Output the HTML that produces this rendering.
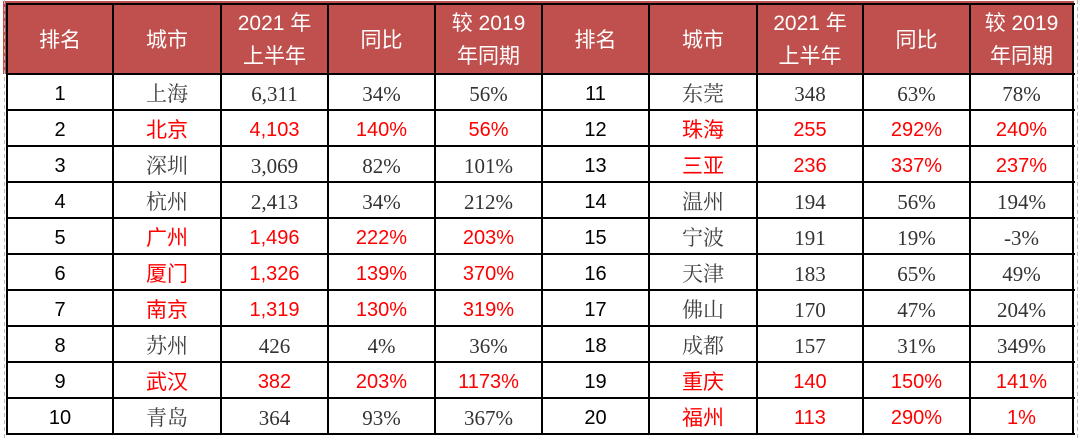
<!DOCTYPE html>
<html><head><meta charset="utf-8"><style>
html,body{margin:0;padding:0;background:#fff;width:1080px;height:440px;overflow:hidden;position:relative}
.hdrbg{position:absolute;left:3px;top:1px;width:1071px;height:73px;background:#c0504d}
.grid{position:absolute;left:7px;top:4px;display:grid;grid-template-columns:106px 108px 107px 107px 107px 107px 108px 106px 107px 103px;grid-template-rows:70px repeat(10,36px)}
.grid div{display:flex;align-items:center;justify-content:center;text-align:center;white-space:nowrap;line-height:24px;padding-top:3px;box-sizing:border-box}
.grid div.h{color:#fff;font-family:"Liberation Sans","Noto Sans CJK SC",sans-serif;font-size:21px;line-height:33px;padding-top:1px}
.grid div.hc{font-family:"Noto Sans CJK SC",sans-serif}
.r{color:#000;font-family:"Liberation Sans",sans-serif;font-size:20px}
.grid div.c{color:#404040;font-family:"Noto Serif CJK SC",serif;font-size:21px;padding-top:1px}
.n{color:#333;font-family:"Liberation Serif",serif;font-size:21px}
.grid div.red{color:#ff0000;font-family:"Liberation Sans",sans-serif;font-size:20px}
.grid div.c.red{font-family:"Noto Sans CJK SC",sans-serif;font-size:21px}
.vl{position:absolute;top:4px;width:2px;height:431px;background:#000}
.hl{position:absolute;left:6px;width:1069px;height:2px;background:#000}
.dash{position:absolute;top:0;width:1px;height:440px;background:repeating-linear-gradient(#bbb 0 4px,transparent 4px 7px)}
</style></head><body>
<div class="hdrbg"></div>
<div class="grid">
<div class="h hc">排名</div><div class="h hc">城市</div><div class="h">2021 年<br>上半年</div><div class="h hc">同比</div><div class="h">较 2019<br>年同期</div><div class="h hc">排名</div><div class="h hc">城市</div><div class="h">2021 年<br>上半年</div><div class="h hc">同比</div><div class="h">较 2019<br>年同期</div>

<div class="r">1</div><div class="c">上海</div><div class="n">6,311</div><div class="n">34%</div><div class="n">56%</div><div class="r">11</div><div class="c">东莞</div><div class="n">348</div><div class="n">63%</div><div class="n">78%</div>

<div class="r">2</div><div class="c red">北京</div><div class="n red">4,103</div><div class="n red">140%</div><div class="n red">56%</div><div class="r">12</div><div class="c red">珠海</div><div class="n red">255</div><div class="n red">292%</div><div class="n red">240%</div>

<div class="r">3</div><div class="c">深圳</div><div class="n">3,069</div><div class="n">82%</div><div class="n">101%</div><div class="r">13</div><div class="c red">三亚</div><div class="n red">236</div><div class="n red">337%</div><div class="n red">237%</div>

<div class="r">4</div><div class="c">杭州</div><div class="n">2,413</div><div class="n">34%</div><div class="n">212%</div><div class="r">14</div><div class="c">温州</div><div class="n">194</div><div class="n">56%</div><div class="n">194%</div>

<div class="r">5</div><div class="c red">广州</div><div class="n red">1,496</div><div class="n red">222%</div><div class="n red">203%</div><div class="r">15</div><div class="c">宁波</div><div class="n">191</div><div class="n">19%</div><div class="n">-3%</div>

<div class="r">6</div><div class="c red">厦门</div><div class="n red">1,326</div><div class="n red">139%</div><div class="n red">370%</div><div class="r">16</div><div class="c">天津</div><div class="n">183</div><div class="n">65%</div><div class="n">49%</div>

<div class="r">7</div><div class="c red">南京</div><div class="n red">1,319</div><div class="n red">130%</div><div class="n red">319%</div><div class="r">17</div><div class="c">佛山</div><div class="n">170</div><div class="n">47%</div><div class="n">204%</div>

<div class="r">8</div><div class="c">苏州</div><div class="n">426</div><div class="n">4%</div><div class="n">36%</div><div class="r">18</div><div class="c">成都</div><div class="n">157</div><div class="n">31%</div><div class="n">349%</div>

<div class="r">9</div><div class="c red">武汉</div><div class="n red">382</div><div class="n red">203%</div><div class="n red">1173%</div><div class="r">19</div><div class="c red">重庆</div><div class="n red">140</div><div class="n red">150%</div><div class="n red">141%</div>

<div class="r">10</div><div class="c">青岛</div><div class="n">364</div><div class="n">93%</div><div class="n">367%</div><div class="r">20</div><div class="c red">福州</div><div class="n red">113</div><div class="n red">290%</div><div class="n red">1%</div>
</div>

<div class="vl" style="left:6px"></div>
<div class="vl" style="left:112px"></div>
<div class="vl" style="left:220px"></div>
<div class="vl" style="left:327px"></div>
<div class="vl" style="left:434px"></div>
<div class="vl" style="left:541px"></div>
<div class="vl" style="left:648px"></div>
<div class="vl" style="left:756px"></div>
<div class="vl" style="left:862px"></div>
<div class="vl" style="left:969px"></div>
<div class="vl" style="left:1072px"></div>

<div class="hl" style="top:3px"></div>
<div class="hl" style="top:73px"></div>
<div class="hl" style="top:109px"></div>
<div class="hl" style="top:145px"></div>
<div class="hl" style="top:181px"></div>
<div class="hl" style="top:217px"></div>
<div class="hl" style="top:253px"></div>
<div class="hl" style="top:289px"></div>
<div class="hl" style="top:325px"></div>
<div class="hl" style="top:361px"></div>
<div class="hl" style="top:397px"></div>
<div class="hl" style="top:433px"></div>

<div class="dash" style="left:4px"></div>
<div class="dash" style="left:1077px"></div>
</body></html>
